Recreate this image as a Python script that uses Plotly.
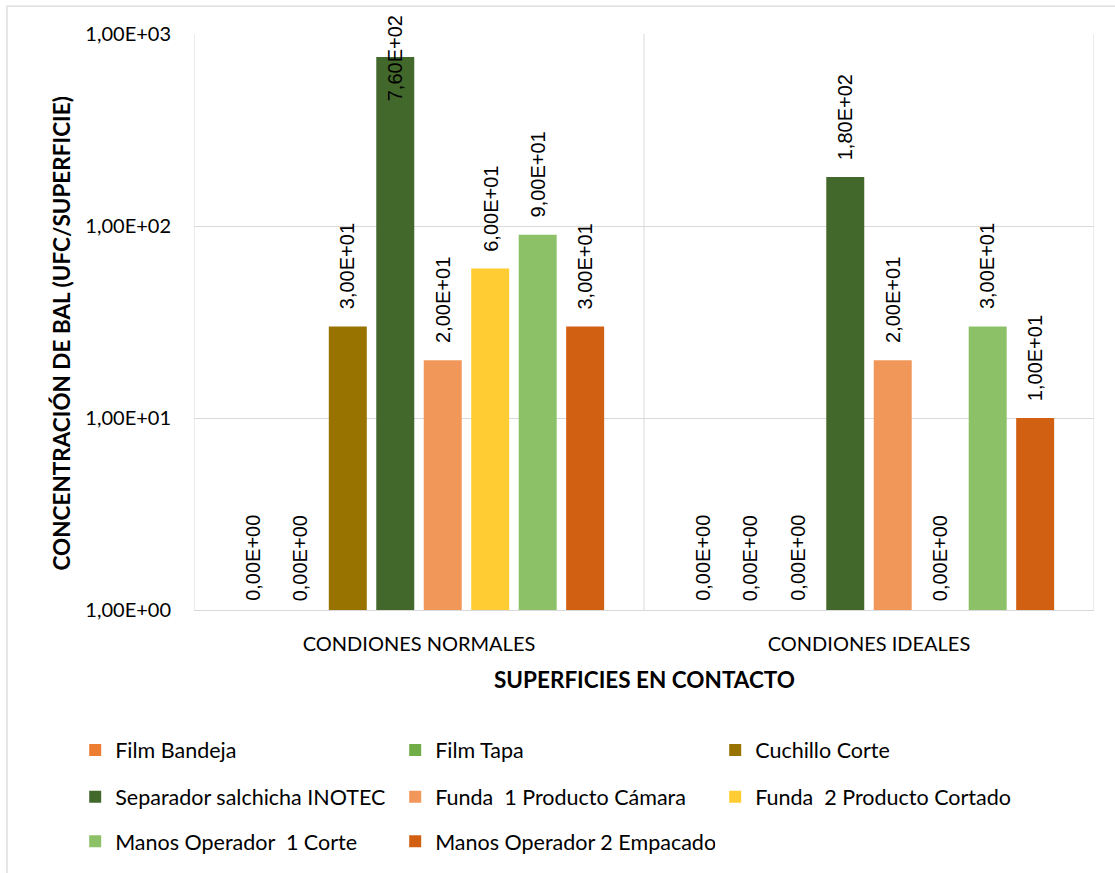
import math
import plotly.graph_objects as go

# Categories and series
categories = ["CONDIONES NORMALES", "CONDIONES IDEALES"]
series_names = [
    "Film Bandeja",
    "Film Tapa",
    "Cuchillo Corte",
    "Separador salchicha INOTEC",
    "Funda  1 Producto Cámara",
    "Funda  2 Producto Cortado",
    "Manos Operador  1 Corte",
    "Manos Operador 2 Empacado",
]
film_bandeja = [0, 0]
film_tapa = [0, 0]
cuchillo_corte = [30, 0]
separador_inotec = [760, 180]
funda_1_camara = [20, 20]
funda_2_cortado = [60, 0]
manos_1_corte = [90, 30]
manos_2_empacado = [30, 10]
series_values = [
    film_bandeja, film_tapa, cuchillo_corte, separador_inotec,
    funda_1_camara, funda_2_cortado, manos_1_corte, manos_2_empacado,
]
colors = ["#ED7D31", "#70AD47", "#997300", "#43682B",
          "#F1975A", "#FFCD33", "#8CC168", "#D26012"]
y_ticks = [1, 10, 100, 1000]

BARGAP = 0.156
GROUPGAP = 0.2
LABEL_FONT = dict(family="Liberation Sans, Arial, sans-serif", size=20, color="#000000")
TEXT_FONT = "Lato, Calibri, sans-serif"


def sci_label(v):
    return f"{v:.2E}".replace(".", ",")


fig = go.Figure()
legend_ids = ["legend", "legend", "legend", "legend2", "legend2", "legend2", "legend3", "legend3"]
for name, vals, col, lg in zip(series_names, series_values, colors, legend_ids):
    fig.add_trace(go.Bar(
        name=name,
        x=list(range(len(categories))),
        y=[v if v > 0 else None for v in vals],
        marker=dict(color=col, line=dict(width=0)),
        legend=lg,
    ))

# Value labels above each bar (zero values sit on the baseline)
n = len(series_names)
slot = (1 - BARGAP) / n
annotations = []
for j, vals in enumerate(series_values):
    for i, v in enumerate(vals):
        xpos = i - (1 - BARGAP) / 2 + (j + 0.5) * slot
        if v <= 0:
            annotations.append(dict(x=xpos, y=0, xref="x", yref="y", text=sci_label(v),
                                    textangle=-90, showarrow=False, yanchor="bottom",
                                    yshift=7, font=LABEL_FONT))
        elif math.log10(v) > 2.5:
            # label would run out of the chart: pin it to the top edge
            annotations.append(dict(x=xpos, y=1, xref="x", yref="paper", text=sci_label(v),
                                    textangle=-90, showarrow=False, yanchor="top",
                                    yshift=21, font=LABEL_FONT))
        else:
            annotations.append(dict(x=xpos, y=math.log10(v), xref="x", yref="y",
                                    text=sci_label(v), textangle=-90, showarrow=False,
                                    yanchor="bottom", yshift=15, font=LABEL_FONT))

# Axis titles
TITLE_FONT = dict(family=TEXT_FONT, size=22.5, color="#000000")
annotations.append(dict(x=-0.1467, y=0.48, xref="paper", yref="paper",
                        xanchor="center", yanchor="middle",
                        text="<b>CONCENTRACIÓN DE BAL (UFC/SUPERFICIE)</b>", textangle=-90,
                        showarrow=False, font=TITLE_FONT))
annotations.append(dict(x=0.5, y=-0.1213, xref="paper", yref="paper",
                        xanchor="center", yanchor="middle",
                        text="<b>SUPERFICIES EN CONTACTO</b>", showarrow=False,
                        font=TITLE_FONT))

grid_col = "#D9D9D9"
shapes = []
# category separators
for k in range(len(categories) + 1):
    shapes.append(dict(type="line", xref="x", yref="paper", x0=k - 0.5, x1=k - 0.5,
                       y0=0, y1=1, line=dict(color=grid_col, width=1)))
# chart area border
shapes.append(dict(type="rect", xref="paper", yref="paper", x0=-0.2078, x1=1.05,
                   y0=-0.5, y1=1.0485, line=dict(color=grid_col, width=1.3),
                   fillcolor="rgba(0,0,0,0)", layer="below"))

legend_common = dict(orientation="h", entrywidth=275, entrywidthmode="pixels",
                     font=dict(family=TEXT_FONT, size=21.5, color="#000000"),
                     xanchor="left", yanchor="middle", itemwidth=30,
                     bgcolor="rgba(0,0,0,0)", traceorder="normal")

fig.update_layout(
    width=1115, height=873,
    margin=dict(l=194, r=21, t=34, b=262),
    paper_bgcolor="white", plot_bgcolor="white",
    barmode="group", bargap=BARGAP, bargroupgap=GROUPGAP,
    showlegend=True,
    legend=dict(x=-0.132, y=-0.241, **legend_common),
    legend2=dict(x=-0.132, y=-0.322, **legend_common),
    legend3=dict(x=-0.132, y=-0.399, **legend_common),
    annotations=annotations,
    shapes=shapes,
    xaxis=dict(
        tickmode="array", tickvals=list(range(len(categories))), ticktext=categories,
        range=[-0.5, len(categories) - 0.5],
        showgrid=False, showline=True, linecolor=grid_col, linewidth=1,
        ticks="", ticklabelstandoff=16, zeroline=False,
        tickfont=dict(family=TEXT_FONT, size=20, color="#000000"),
    ),
    yaxis=dict(
        type="log", range=[0, 3], tickmode="array", tickvals=y_ticks,
        ticktext=[sci_label(v) for v in y_ticks],
        showgrid=True, gridcolor=grid_col, gridwidth=1,
        showline=False, zeroline=False, ticks="", ticklabelstandoff=22,
        tickfont=dict(family=TEXT_FONT, size=20, color="#000000"),
    ),
)

fig.write_html("out.html")
